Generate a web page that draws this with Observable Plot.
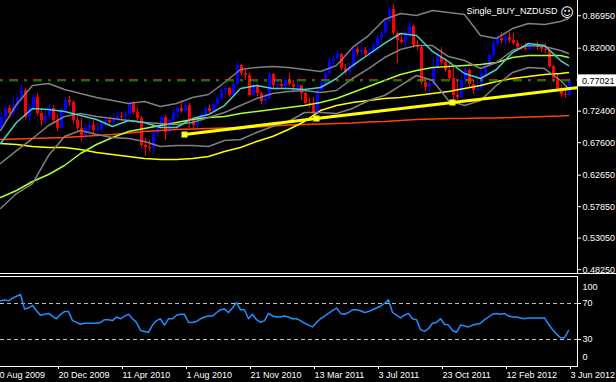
<!DOCTYPE html>
<html><head><meta charset="utf-8">
<script src="https://cdn.jsdelivr.net/npm/d3@7"></script>
<script src="https://cdn.jsdelivr.net/npm/@observablehq/plot@0.6"></script>
<style>
html,body{margin:0;padding:0;background:#000;}
#chart{width:616px;height:382px;overflow:hidden;background:#000;}
#chart svg{display:block;}
.sep{height:1px;width:616px;background:#fff;}
</style></head><body><div id="chart"></div>
<script>
// ---- weekly NZDUSD candles (bar index 0 = week of 13 Sep 2009, 142 = week of 3 Jun 2012)
const firstOpen = 0.6976;
const closes = [
0.7144,0.7281,0.7204,0.7326,0.7433,0.7555,0.7144,0.7296,0.7448,0.7204,
0.7098,0.7159,0.7281,0.7098,0.6976,0.7250,0.7403,0.7372,0.7098,0.6976,
0.6869,0.6976,0.7022,0.6945,0.6961,0.7037,0.7098,0.7067,0.7113,0.7159,
0.7144,0.7189,0.7342,0.7220,0.7128,0.6717,0.6686,0.6671,0.6900,0.6991,
0.7144,0.6915,0.7098,0.7220,0.7281,0.7235,0.7326,0.7098,0.7022,0.7098,
0.7189,0.7281,0.7235,0.7342,0.7433,0.7555,0.7586,0.7479,0.7646,0.7936,
0.7814,0.7784,0.7479,0.7631,0.7509,0.7387,0.7433,0.7799,0.7631,0.7646,
0.7616,0.7708,0.7646,0.7601,0.7631,0.7509,0.7357,0.7326,0.7204,0.7555,
0.7662,0.7814,0.7997,0.8043,0.8104,0.7890,0.7829,0.7921,0.8180,0.8134,
0.8165,0.8104,0.8134,0.8241,0.8348,0.8424,0.8607,0.8790,0.8424,0.8317,
0.8287,0.8409,0.8531,0.8241,0.8211,0.7677,0.7601,0.7646,0.7906,0.8058,
0.7982,0.7860,0.7738,0.7479,0.7448,0.7708,0.7860,0.7646,0.7555,0.7586,
0.7814,0.7921,0.8089,0.8272,0.8348,0.8317,0.8363,0.8317,0.8272,0.8211,
0.8195,0.8180,0.8241,0.8256,0.8211,0.8180,0.8165,0.7921,0.7738,0.7586,
0.7494,0.7479,0.77021];
const highs = [
0.7220,0.7326,0.7326,0.7448,0.7479,0.7646,0.7586,0.7357,0.7494,0.7509,
0.7281,0.7250,0.7342,0.7326,0.7189,0.7296,0.7448,0.7464,0.7403,0.7159,
0.7128,0.7037,0.7083,0.7098,0.7037,0.7098,0.7144,0.7144,0.7189,0.7235,
0.7220,0.7250,0.7387,0.7387,0.7281,0.7159,0.6823,0.6793,0.6930,0.7022,
0.7174,0.7174,0.7128,0.7296,0.7311,0.7403,0.7372,0.7357,0.7128,0.7144,
0.7235,0.7311,0.7342,0.7372,0.7464,0.7586,0.7631,0.7601,0.7677,0.7982,
0.7951,0.7860,0.7814,0.7677,0.7646,0.7525,0.7525,0.7829,0.7814,0.7708,
0.7708,0.7753,0.7814,0.7708,0.7677,0.7631,0.7525,0.7433,0.7448,0.7586,
0.7708,0.7845,0.8043,0.8089,0.8165,0.8119,0.7951,0.7982,0.8211,0.8226,
0.8272,0.8211,0.8195,0.8287,0.8393,0.8470,0.8653,0.8820,0.8866,0.8454,
0.8409,0.8454,0.8592,0.8546,0.8317,0.8241,0.7753,0.7738,0.8043,0.8134,
0.8211,0.8043,0.7967,0.7906,0.7708,0.7829,0.7936,0.7890,0.7708,0.7738,
0.7906,0.7982,0.8134,0.8317,0.8393,0.8439,0.8424,0.8439,0.8424,0.8317,
0.8256,0.8272,0.8272,0.8272,0.8287,0.8256,0.8272,0.8165,0.7936,0.7799,
0.7631,0.7586,0.7738];
const lows = [
0.6915,0.7067,0.7128,0.7174,0.7250,0.7387,0.7113,0.7067,0.7250,0.7159,
0.7006,0.7052,0.7113,0.7037,0.6930,0.6961,0.7220,0.7311,0.7037,0.6915,
0.6778,0.6793,0.6900,0.6900,0.6869,0.6915,0.6991,0.7022,0.7037,0.7083,
0.7083,0.7113,0.7159,0.7189,0.7083,0.6671,0.6549,0.6625,0.6564,0.6854,
0.6976,0.6793,0.6884,0.7067,0.7128,0.7204,0.7204,0.6991,0.6976,0.6976,
0.7067,0.7128,0.7204,0.7220,0.7311,0.7403,0.7479,0.7448,0.7464,0.7631,
0.7768,0.7708,0.7448,0.7479,0.7464,0.7342,0.7342,0.7418,0.7586,0.7555,
0.7570,0.7586,0.7616,0.7525,0.7555,0.7403,0.7326,0.7281,0.7128,0.7189,
0.7509,0.7631,0.7784,0.7921,0.8012,0.7860,0.7784,0.7799,0.7890,0.8089,
0.8073,0.8058,0.8073,0.8104,0.8195,0.8287,0.8393,0.8592,0.8393,0.7967,
0.8256,0.8211,0.8363,0.8195,0.8165,0.7631,0.7540,0.7448,0.7616,0.7860,
0.7936,0.7829,0.7708,0.7372,0.7403,0.7433,0.7646,0.7601,0.7494,0.7525,
0.7555,0.7768,0.7890,0.8058,0.8226,0.8272,0.8241,0.8272,0.8241,0.8180,
0.8165,0.8150,0.8165,0.8180,0.8165,0.8134,0.8119,0.7890,0.7677,0.7525,
0.7448,0.7433,0.7448];

// ---- RSI per bar
const rsi = [
73,74,73,76,78,80,64,65,68,62, 57,58,59,56,53,58,61,61,51,49,
47,48,48,48,48,49,52,52,51,55, 53,56,58,53,49,40,39,38,46,51,
53,46,53,53,57,58,58,49,49,50, 53,55,56,56,60,63,64,60,65,71,
63,63,53,58,52,49,51,59,56,55, 55,56,55,53,53,51,48,46,44,49,
53,56,59,62,65,59,58,60,63,63, 62,60,61,63,65,67,70,74,60,57,
54,57,59,53,52,41,39,42,48,49, 53,47,46,40,38,46,45,44,46,47,
48,52,55,58,59,58,59,56,55,55, 54,53,54,54,54,54,54,47,41,36,
32,32,40];
const rsiLevels = [70, 30];

// ---- indicator lines, read every 4th bar
const sampleIdx = [0,4,8,12,16,20,24,28,32,36,40,44,48,52,56,60,64,68,72,76,80,84,88,92,96,100,104,108,112,116,120,124,128,132,136,140,142];
const maFast = [0.6747,0.7067,0.7281,0.7265,0.7235,0.7174,0.7113,0.7006,0.7098,0.7067,0.6991,0.6991,0.7128,0.7189,0.7326,0.7586,0.7631,0.7586,0.7586,0.7570,0.7601,0.7738,0.7936,0.8104,0.8272,0.8424,0.8393,0.8150,0.7997,0.7814,0.7738,0.7875,0.8134,0.8272,0.8241,0.8012,0.7936];
const bbUpper = [0.6945,0.7342,0.7631,0.7662,0.7570,0.7509,0.7448,0.7403,0.7357,0.7387,0.7311,0.7357,0.7448,0.7494,0.7677,0.7875,0.7906,0.7921,0.7906,0.7875,0.7845,0.7936,0.8211,0.8393,0.8637,0.8729,0.8698,0.8775,0.8744,0.8714,0.8393,0.8348,0.8500,0.8576,0.8561,0.8607,0.8653];
const bbMiddle = [0.6442,0.6640,0.6823,0.7022,0.7159,0.7204,0.7159,0.7128,0.7098,0.7067,0.7052,0.7037,0.7067,0.7144,0.7220,0.7326,0.7433,0.7509,0.7540,0.7555,0.7525,0.7555,0.7738,0.7890,0.8058,0.8180,0.8241,0.8241,0.8073,0.8012,0.7890,0.7982,0.8165,0.8241,0.8226,0.8165,0.8119];
const bbLower = [0.5756,0.5985,0.6137,0.6564,0.6854,0.6945,0.6884,0.6839,0.6823,0.6778,0.6701,0.6717,0.6717,0.6701,0.6793,0.6808,0.6915,0.7006,0.7083,0.7220,0.7220,0.7204,0.7281,0.7403,0.7479,0.7631,0.7784,0.7708,0.7403,0.7326,0.7403,0.7631,0.7829,0.7906,0.7890,0.7708,0.7586];
const ma50 = [0.5924,0.6031,0.6168,0.6275,0.6412,0.6595,0.6732,0.6839,0.6930,0.6976,0.7022,0.7067,0.7113,0.7144,0.7159,0.7204,0.7235,0.7265,0.7296,0.7326,0.7372,0.7433,0.7525,0.7616,0.7708,0.7799,0.7860,0.7906,0.7921,0.7936,0.7951,0.7982,0.8058,0.8089,0.8089,0.8089,0.8058];
const ma100 = [0.6747,0.6732,0.6701,0.6686,0.6686,0.6656,0.6610,0.6579,0.6549,0.6518,0.6503,0.6503,0.6518,0.6549,0.6625,0.6686,0.6778,0.6854,0.6961,0.7083,0.7250,0.7326,0.7372,0.7403,0.7433,0.7448,0.7479,0.7509,0.7540,0.7586,0.7631,0.7692,0.7738,0.7768,0.7799,0.7814,0.7829];
const ma200 = [0.6808,0.6816,0.6823,0.6831,0.6839,0.6854,0.6869,0.6884,0.6907,0.6930,0.6945,0.6961,0.6968,0.6976,0.6983,0.6991,0.6999,0.7014,0.7029,0.7037,0.7044,0.7052,0.7060,0.7075,0.7083,0.7098,0.7113,0.7121,0.7128,0.7128,0.7136,0.7136,0.7144,0.7151,0.7159,0.7166,0.7174];

// ---- support trendline (anchor bars and prices)
const trendIdx = [46, 79, 113, 144];
const trendVal = [0.6884, 0.7128, 0.7372, 0.7598];

// ---- axes
const priceTicks = [0.8695, 0.82, 0.724, 0.676, 0.6265, 0.5785, 0.5305, 0.4825];
const lastPrice = 0.77021;
const tickIdx = [-2, 14, 30, 46, 62, 78, 94, 110, 126, 142];
const tickLabels = ["30 Aug 2009","20 Dec 2009","11 Apr 2010","1 Aug 2010","21 Nov 2010","13 Mar 2011","3 Jul 2011","23 Oct 2011","12 Feb 2012","3 Jun 2012"];
const title = "Single_BUY_NZDUSD";

// ---- build tables
const bars = closes.map((c, i) => ({i, open: i === 0 ? firstOpen : closes[i - 1], close: c, high: highs[i], low: lows[i]}));
const candleColor = d => d.close >= d.open ? "#0000ff" : "#ff0000";
const samples = sampleIdx.map((i, k) => ({i, fast: maFast[k], up: bbUpper[k], mid: bbMiddle[k], lo: bbLower[k], m50: ma50[k], m100: ma100[k], m200: ma200[k]}));
const trend = trendIdx.map((i, k) => ({i, v: trendVal[k]}));
const rsiData = rsi.map((v, i) => ({i, v}));

const font = "'Liberation Sans', Arial, sans-serif";
const xDomain = [0, 144.25];

const main = Plot.plot({
  width: 616, height: 273,
  marginTop: 0, marginBottom: 0, marginLeft: 0, marginRight: 39,
  style: {background: "#000", color: "#fff", fontFamily: font, fontSize: "9px"},
  x: {domain: xDomain, axis: null},
  y: {domain: [0.4766, 0.8927], axis: "right", ticks: priceTicks, tickFormat: d => d.toFixed(5), tickSize: 3, tickPadding: 2, line: true, label: null},
  marks: [
    Plot.ruleX(bars, {x: "i", y1: "low", y2: "high", stroke: candleColor, dx: 1}),
    Plot.ruleX(bars, {x: "i", y1: "open", y2: "close", stroke: candleColor, strokeWidth: 3, dx: 1}),
    Plot.line(samples, {x: "i", y: "m200", stroke: "#ff4500"}),
    Plot.line(samples, {x: "i", y: "m100", stroke: "#ffff00"}),
    Plot.line(samples, {x: "i", y: "m50", stroke: "#adff2f"}),
    Plot.line(samples, {x: "i", y: "up", stroke: "#808080"}),
    Plot.line(samples, {x: "i", y: "mid", stroke: "#808080"}),
    Plot.line(samples, {x: "i", y: "lo", stroke: "#808080"}),
    Plot.line(samples, {x: "i", y: "fast", stroke: "#48d1cc"}),
    Plot.ruleY([lastPrice], {stroke: "#ff4500", strokeDasharray: "9,6,3,6", strokeDashoffset: 15, dy: -1}),
    Plot.ruleY([lastPrice], {stroke: "#00a000", strokeDasharray: "9,6,3,6", strokeDashoffset: 15}),
    Plot.line(trend, {x: "i", y: "v", stroke: "#ffff00", strokeWidth: 3}),
    Plot.dot(trend.slice(0, 3), {x: "i", y: "v", symbol: "square", r: 3.4, fill: "#ffff00", stroke: null}),
    Plot.dot(trend.slice(0, 3), {x: "i", y: "v", symbol: "square", r: 1.1, fill: "#ffffff", stroke: null}),
    Plot.text([title], {frameAnchor: "top-right", dx: -20, dy: 7, textAnchor: "end", fill: "#fff", fontSize: 9}),
    Plot.text(["\u263A"], {frameAnchor: "top-right", dx: -10.5, dy: 7.5, textAnchor: "middle", fill: "#fff", fontSize: 13, fontFamily: "DejaVu Sans"})
  ]
});

// current price box on the price axis
{
  const yy = main.scale("y").apply(lastPrice);
  const g = d3.select(main).append("g");
  g.append("rect").attr("x", 578).attr("y", yy - 6).attr("width", 38).attr("height", 12).attr("fill", "#fff");
  g.append("text").attr("x", 582).attr("y", yy).attr("dy", "0.35em").attr("fill", "#000")
    .attr("text-anchor", "start")
    .attr("font-family", font).attr("font-size", 9).text(lastPrice.toFixed(5));
}

const lower = Plot.plot({
  width: 616, height: 108,
  marginTop: 2, marginBottom: 16, marginLeft: 0, marginRight: 39,
  style: {background: "#000", color: "#fff", fontFamily: font, fontSize: "9px"},
  x: {domain: xDomain},
  y: {domain: [0, 100], axis: "right", ticks: rsiLevels, tickSize: 3, tickPadding: 2, line: true, label: null},
  marks: [
    Plot.ruleY(rsiLevels, {stroke: "#c0c0c0", strokeDasharray: "4,3"}),
    Plot.line(rsiData, {x: "i", y: "v", stroke: "#1e90ff"}),
    Plot.ruleY([100], {stroke: "#fff"}),
    Plot.ruleY([0], {stroke: "#fff"}),
    Plot.axisX({ticks: tickIdx, tickFormat: d => tickLabels[tickIdx.indexOf(d)], tickSize: 3, tickPadding: 2, textAnchor: "start", dx: 2, label: null}),
    Plot.text(["100"], {frameAnchor: "top-right", dx: 5, dy: 6.7, textAnchor: "start", fill: "#fff"}),
    Plot.text(["0"], {frameAnchor: "bottom-right", dx: 5, dy: -6.7, textAnchor: "start", fill: "#fff"})
  ]
});

const root = document.getElementById("chart");
root.appendChild(main);
const sep = document.createElement("div"); sep.className = "sep"; root.appendChild(sep);
root.appendChild(lower);
</script></body></html>
